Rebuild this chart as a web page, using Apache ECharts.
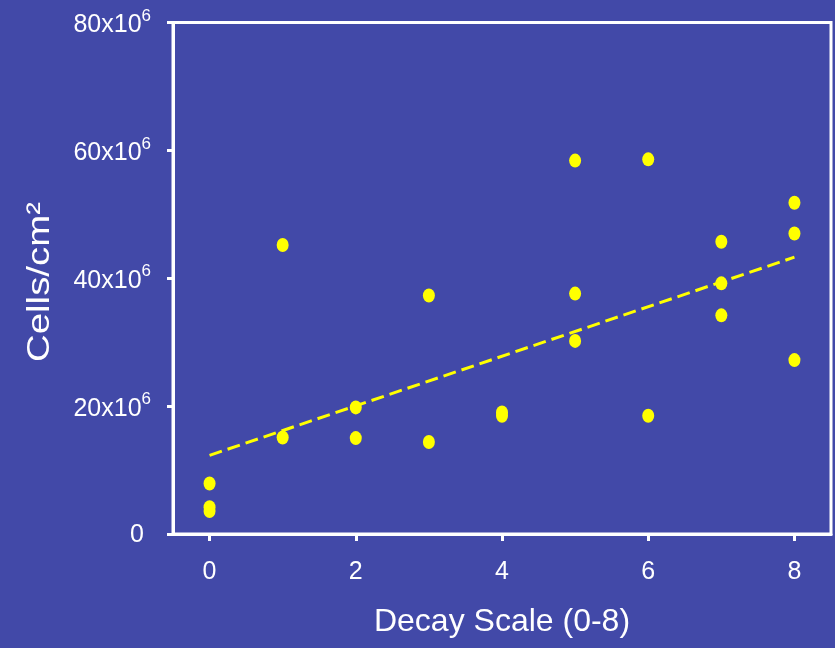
<!DOCTYPE html>
<html>
<head>
<meta charset="utf-8">
<script src="https://cdn.jsdelivr.net/npm/echarts@6/dist/echarts.min.js"></script>
<style>
  html, body { margin: 0; padding: 0; background: #4249A8; }
  #chart { width: 835px; height: 648px; }
</style>
</head>
<body>
<div id="chart"></div>
<script>
// Decay score of each sample and its cell density (in units of 10^6 cells/cm²)
const decayScore = [0, 0, 0, 1, 1, 2, 2, 3, 3, 4, 4, 5, 5, 5, 6, 6, 7, 7, 7, 8, 8, 8];
const cellsMillions = [7.9, 4.2, 3.6, 45.2, 15.1, 19.8, 15.0, 37.3, 14.4, 19.0, 18.5,
                       58.4, 37.6, 30.2, 58.6, 18.5, 45.7, 39.2, 34.2, 51.8, 47.0, 27.2];

// Fitted trend line end points
const trendX = [0, 8];
const trendY = [12.3, 43.3];

// Tick values
const xTickValues = [0, 2, 4, 6, 8];
const yTickStep = 20;

const FONT = "'Liberation Sans', Arial, sans-serif";
const WHITE = '#ffffff';
const YELLOW = '#ffff00';

const chart = echarts.init(document.getElementById('chart'), null, { renderer: 'canvas' });

chart.setOption({
  backgroundColor: '#4249A8',
  animation: false,
  grid: {
    left: 173, right: 4, top: 22.5, bottom: 114,
    show: true, borderColor: WHITE, borderWidth: 3, backgroundColor: 'transparent'
  },
  xAxis: {
    type: 'value',
    min: -0.5, max: 8.5,
    name: 'Decay Scale (0-8)',
    nameLocation: 'middle',
    nameGap: 72,
    nameTextStyle: { color: WHITE, fontSize: 32, fontFamily: FONT },
    axisLine: { show: true, onZero: false, lineStyle: { color: WHITE, width: 3 } },
    axisTick: { show: true, length: 7, customValues: xTickValues, lineStyle: { color: WHITE, width: 3 } },
    axisLabel: {
      customValues: xTickValues,
      color: WHITE, fontSize: 25, fontFamily: FONT, margin: 26
    },
    splitLine: { show: false }
  },
  yAxis: {
    type: 'value',
    min: 0, max: 80, interval: yTickStep,
    axisLine: { show: true, onZero: false, lineStyle: { color: WHITE, width: 3 } },
    axisTick: { show: true, length: 6, lineStyle: { color: WHITE, width: 3 } },
    axisLabel: {
      color: WHITE, fontFamily: FONT, margin: 22,
      formatter: v => v === 0 ? '{z|0}' : '{b|' + v + 'x10}{s|6}',
      rich: {
        b: { color: WHITE, fontSize: 25, lineHeight: 32, fontFamily: FONT, padding: [6, 0, 0, 0] },
        z: { color: WHITE, fontSize: 25, lineHeight: 32, fontFamily: FONT, padding: [2, 7, 0, 0] },
        s: { color: WHITE, fontSize: 17, lineHeight: 17, verticalAlign: 'top', fontFamily: FONT, padding: [1, 0, 0, 0] }
      }
    },
    splitLine: { show: false }
  },
  graphic: [{
    type: 'text',
    x: 40, y: 282,
    rotation: Math.PI / 2,
    scaleX: 1.2,
    style: {
      text: 'Cells/cm²',
      fill: WHITE,
      font: '32px ' + FONT,
      align: 'center',
      verticalAlign: 'middle'
    }
  }],
  series: [
    {
      type: 'line',
      data: trendX.map((x, i) => [x, trendY[i]]),
      showSymbol: false,
      lineStyle: { color: YELLOW, width: 3, type: [13, 6] },
      z: 2
    },
    {
      type: 'scatter',
      data: decayScore.map((x, i) => [x, cellsMillions[i]]),
      symbol: 'circle',
      symbolSize: [12, 14],
      itemStyle: { color: YELLOW, opacity: 1 },
      z: 3
    }
  ]
});
</script>
</body>
</html>
